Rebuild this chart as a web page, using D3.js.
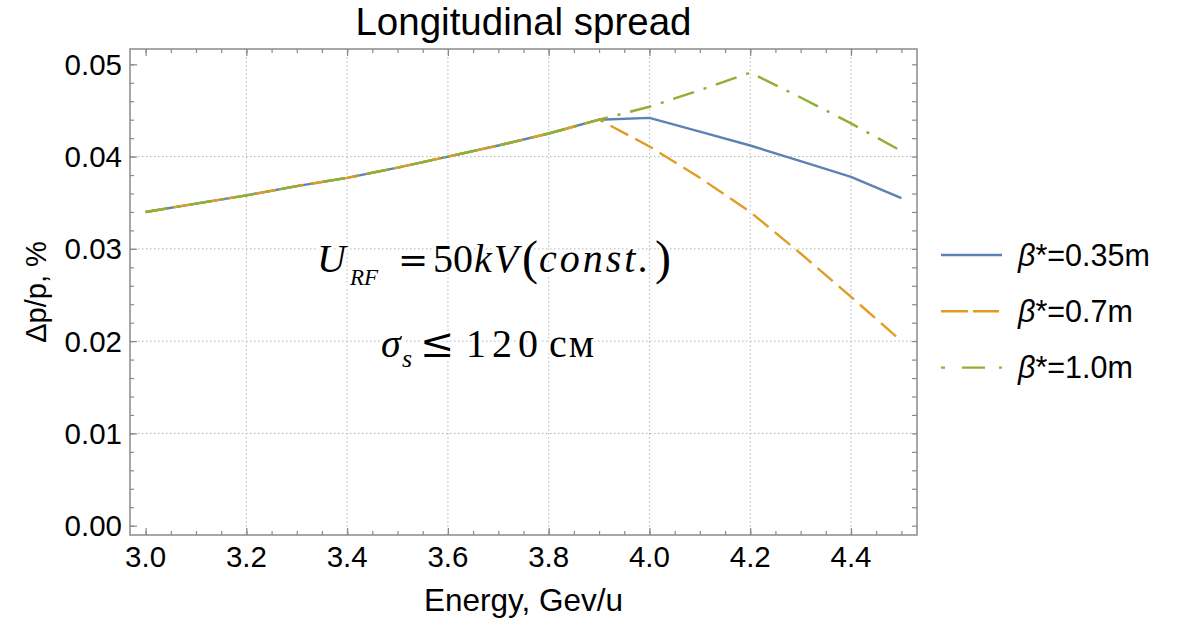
<!DOCTYPE html>
<html>
<head>
<meta charset="utf-8">
<script src="https://cdn.jsdelivr.net/npm/d3@7"></script>
<style>
  body { margin: 0; background: #fff; }
  svg { display: block; }
</style>
</head>
<body>
<div class="chart"></div>
<script>
// data
var energy = [3.0, 3.1, 3.2, 3.3, 3.4, 3.5, 3.6, 3.7, 3.8, 3.9, 4.0, 4.1, 4.2, 4.3, 4.4, 4.5];
var spread035 = [0.0340, 0.0349, 0.0358, 0.0368, 0.0377, 0.0388, 0.0400, 0.0412, 0.0425, 0.0440, 0.0442, 0.0427, 0.0412, 0.0395, 0.0378, 0.0355];
var spread07 = [0.0340, 0.0349, 0.0358, 0.0368, 0.0377, 0.0388, 0.0400, 0.0412, 0.0425, 0.0440, 0.0411, 0.0377, 0.0340, 0.0295, 0.0248, 0.0200];
var spread10 = [0.0340, 0.0349, 0.0358, 0.0368, 0.0377, 0.0388, 0.0400, 0.0412, 0.0425, 0.0440, 0.0454, 0.0472, 0.0491, 0.0464, 0.0436, 0.0406];
var seriesNames = ["0.35m", "0.7m", "1.0m"];
var xTicks = [3.0, 3.2, 3.4, 3.6, 3.8, 4.0, 4.2, 4.4];
var yTicks = [0.00, 0.01, 0.02, 0.03, 0.04, 0.05];

var width = 1186,
    height = 624,
    frame = ({ left: 130, right: 917, top: 49, bottom: 535 });

var colors = ["#5e81b5", "#e19c24", "#8fb032"];
var dashes = [null, "20,8", "22,10,3,10"];
var legendDashes = [null, "27,5,26", "4,17,23,14,3"];

var series = [spread035, spread07, spread10].map((vals, i) => ({
    name: seriesNames[i],
    values: energy.map((e, j) => ({ x: e, y: vals[j] }))
}));

var xScale = d3.scaleLinear()
    .domain([2.969, 4.531])
    .range([frame.left, frame.right]);

var yScale = d3.scaleLinear()
    .domain([-0.00101, 0.05166])
    .range([frame.bottom, frame.top]);

var svg = d3.select(".chart").append("svg")
    .attr("width", width)
    .attr("height", height)
    .style("font-family", "'Liberation Sans', Arial, sans-serif");

// grid lines (skip the outermost ticks like the original)
svg.append("g")
    .attr("stroke", "#b4b4b4")
    .attr("stroke-width", 1)
    .attr("stroke-dasharray", "1.5,2.5")
    .selectAll("line")
    .data(xTicks.filter(d => d > 3.0))
    .join("line")
    .attr("x1", d => xScale(d)).attr("x2", d => xScale(d))
    .attr("y1", frame.top).attr("y2", frame.bottom);

svg.append("g")
    .attr("stroke", "#b4b4b4")
    .attr("stroke-width", 1)
    .attr("stroke-dasharray", "1.5,2.5")
    .selectAll("line")
    .data(yTicks.filter(d => d > 0 && d < 0.05))
    .join("line")
    .attr("x1", frame.left).attr("x2", frame.right)
    .attr("y1", d => yScale(d)).attr("y2", d => yScale(d));

// frame axes, ticks pointing inward
var xMinor = d3.range(3.0, 4.5001, 0.05);
var yMinor = d3.range(0, 0.05001, 0.002);

function styleAxis(g) {
    g.select(".domain").remove();
    g.selectAll(".tick line").attr("stroke", "#8a8a8a").attr("stroke-width", 1.2);
}

svg.append("g")
    .attr("transform", `translate(0,${frame.bottom})`)
    .call(d3.axisTop(xScale).tickValues(xMinor).tickSize(4).tickFormat(""))
    .call(styleAxis);
svg.append("g")
    .attr("transform", `translate(0,${frame.bottom})`)
    .call(d3.axisTop(xScale).tickValues(xTicks).tickSize(7).tickFormat(""))
    .call(styleAxis);
svg.append("g")
    .attr("transform", `translate(0,${frame.top})`)
    .call(d3.axisBottom(xScale).tickValues(xMinor).tickSize(4).tickFormat(""))
    .call(styleAxis);
svg.append("g")
    .attr("transform", `translate(0,${frame.top})`)
    .call(d3.axisBottom(xScale).tickValues(xTicks).tickSize(7).tickFormat(""))
    .call(styleAxis);

svg.append("g")
    .attr("transform", `translate(${frame.left},0)`)
    .call(d3.axisRight(yScale).tickValues(yMinor).tickSize(4).tickFormat(""))
    .call(styleAxis);
svg.append("g")
    .attr("transform", `translate(${frame.left},0)`)
    .call(d3.axisRight(yScale).tickValues(yTicks).tickSize(7).tickFormat(""))
    .call(styleAxis);
svg.append("g")
    .attr("transform", `translate(${frame.right},0)`)
    .call(d3.axisLeft(yScale).tickValues(yMinor).tickSize(5).tickFormat(""))
    .call(styleAxis);

// tick labels
svg.append("g")
    .selectAll("text")
    .data(xTicks)
    .join("text")
    .attr("x", d => xScale(d))
    .attr("y", 567)
    .attr("text-anchor", "middle")
    .style("font-size", "29.5px")
    .text(d3.format(".1f"));

svg.append("g")
    .selectAll("text")
    .data(yTicks)
    .join("text")
    .attr("x", 122)
    .attr("y", d => yScale(d) + 10.5)
    .attr("text-anchor", "end")
    .style("font-size", "29.5px")
    .text(d3.format(".2f"));

svg.append("rect")
    .attr("x", frame.left)
    .attr("y", frame.top)
    .attr("width", frame.right - frame.left)
    .attr("height", frame.bottom - frame.top)
    .attr("fill", "none")
    .attr("stroke", "#8a8a8a")
    .attr("stroke-width", 1.5);

// curves
var line = d3.line()
    .x(d => xScale(d.x))
    .y(d => yScale(d.y));

svg.append("g")
    .attr("fill", "none")
    .attr("stroke-width", 2.4)
    .attr("stroke-linejoin", "round")
    .selectAll("path")
    .data(series)
    .join("path")
    .attr("d", d => line(d.values))
    .attr("stroke", (d, i) => colors[i])
    .attr("stroke-dasharray", (d, i) => dashes[i]);

// annotation
var serif = "'Liberation Serif', 'Times New Roman', serif";
var note = svg.append("g")
    .style("font-family", serif)
    .attr("fill", "#000")
    .attr("stroke", "#fff")
    .attr("stroke-width", 5)
    .attr("paint-order", "stroke");

var l1 = note.append("text").attr("y", 272).style("font-size", "40px");
l1.append("tspan").attr("x", 317).style("font-style", "italic").text("U");
l1.append("tspan").attr("x", 350).attr("dy", 13).style("font-style", "italic").style("font-size", "23px").text("RF");
l1.append("tspan").attr("x", 398).attr("dy", -13).style("font-family", "'DejaVu Serif', serif").style("font-size", "36px").text("=");
l1.append("tspan").attr("x", 433).text("50");
l1.append("tspan").attr("x", 474).style("font-style", "italic").style("letter-spacing", "2px").text("kV");
l1.append("tspan").attr("x", 522).attr("dy", 2).style("font-size", "48px").text("(");
l1.append("tspan").attr("x", 539).attr("dy", -2).style("font-style", "italic").style("letter-spacing", "3px").text("const.");
l1.append("tspan").attr("x", 655).attr("dy", 2).style("font-size", "48px").text(")");

var l2 = note.append("text").attr("y", 357).style("font-size", "40px");
l2.append("tspan").attr("x", 381).style("font-style", "italic").text("σ");
l2.append("tspan").attr("x", 402).attr("dy", 10).style("font-style", "italic").style("font-size", "26px").text("s");
l2.append("tspan").attr("x", 420).attr("dy", -10).style("font-family", "'DejaVu Serif', serif").style("font-size", "41px").text("≤");
l2.append("tspan").attr("x", 466).style("letter-spacing", "6px").text("120");
l2.append("tspan").attr("x", 549).style("letter-spacing", "2px").text("см");

// titles
svg.append("text")
    .attr("x", (frame.left + frame.right) / 2)
    .attr("y", 35)
    .attr("text-anchor", "middle")
    .style("font-size", "38.5px")
    .text("Longitudinal spread");

svg.append("text")
    .attr("x", (frame.left + frame.right) / 2)
    .attr("y", 611)
    .attr("text-anchor", "middle")
    .style("font-size", "31.5px")
    .text("Energy, Gev/u");

svg.append("text")
    .attr("transform", "translate(46,292) rotate(-90)")
    .attr("text-anchor", "middle")
    .style("font-size", "29px")
    .text("Δp/p, %");

// legend
var legend = svg.append("g")
    .selectAll("g")
    .data(series)
    .join("g")
    .attr("transform", (d, i) => `translate(941,${255 + i * 56.3})`);

legend.append("line")
    .attr("x1", 0).attr("x2", 61)
    .attr("stroke", (d, i) => colors[i])
    .attr("stroke-width", 2.4)
    .attr("stroke-dasharray", (d, i) => legendDashes[i]);

var lt = legend.append("text")
    .attr("x", 77)
    .attr("y", 10.5)
    .style("font-size", "30.5px");
lt.append("tspan").style("font-style", "italic").text("β");
lt.append("tspan").text(d => "*=" + d.name);
</script>
</body>
</html>
